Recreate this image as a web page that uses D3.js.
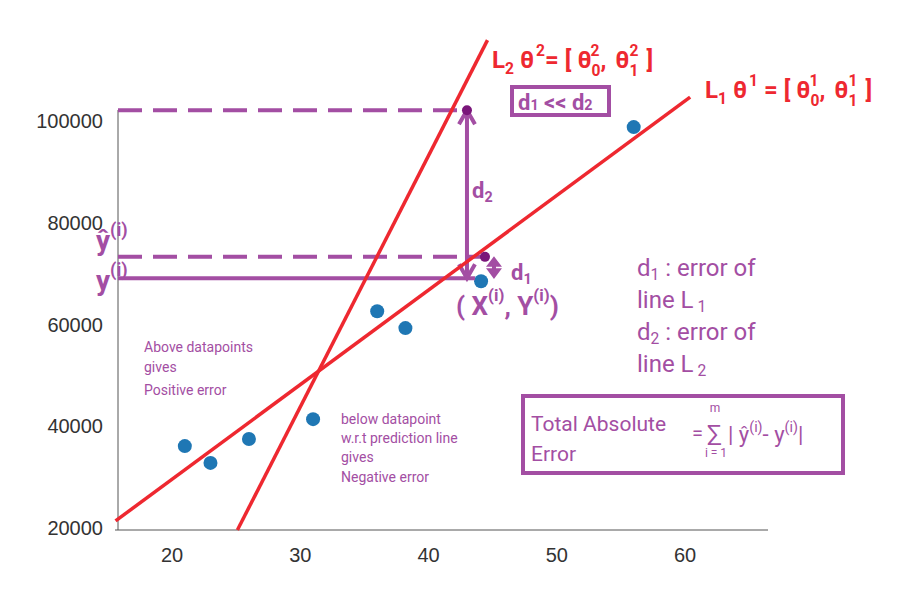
<!DOCTYPE html>
<html><head><meta charset="utf-8">
<script src="https://cdn.jsdelivr.net/npm/d3@7"></script>
<style>body{margin:0;background:#fff}text{font-family:Roboto,"Liberation Sans",sans-serif}</style>
</head><body><svg id="c" width="906" height="607"></svg>
<script>
var xTicks = [20, 30, 40, 50, 60];
var yTicks = [20000, 40000, 60000, 80000, 100000];
var ptX = [21, 23, 26, 31, 36, 38.2, 44.1, 56];
var ptY = [35900, 32600, 37300, 41200, 62400, 59100, 68300, 98600];
var line1 = [[15.6, 21200], [60.4, 104500]];
var line2 = [[25.1, 19400], [44.6, 115700]];
var xi = 43, yHatL2 = 101900, yHatL1 = 73100, yObs = 68900;

var purple = "#a34ea3", red = "#ee2830", blue = "#1f77b4", dark = "#7a167a";
var svg = d3.select("#c");
var x = d3.scaleLinear().domain([20, 60]).range([172, 685]);
var y = d3.scaleLinear().domain([20000, 100000]).range([527, 120]);

svg.append("line").attr("x1", 118).attr("x2", 118).attr("y1", 110).attr("y2", 530).attr("stroke", "#555");
svg.append("line").attr("x1", 115).attr("x2", 768).attr("y1", 530).attr("y2", 530).attr("stroke", "#555");
svg.selectAll(".xt").data(xTicks).join("text").attr("x", d => x(d)).attr("y", 562)
  .attr("text-anchor", "middle").attr("font-size", 20).attr("fill", "#333")
  .style("font-family", "'Liberation Sans',Arial,sans-serif").text(d => d);
svg.selectAll(".yt").data(yTicks).join("text").attr("x", 103).attr("y", d => y(d) + 8)
  .attr("text-anchor", "end").attr("font-size", 20).attr("fill", "#333")
  .style("font-family", "'Liberation Sans',Arial,sans-serif").text(d => d);

svg.selectAll(".pt").data(ptX).join("circle").attr("cx", d => x(d)).attr("cy", (d, i) => y(ptY[i]))
  .attr("r", 7).attr("fill", blue);

// purple guides
svg.append("line").attr("x1", 118).attr("x2", x(xi)).attr("y1", y(yHatL2)).attr("y2", y(yHatL2))
  .attr("stroke", purple).attr("stroke-width", 4).attr("stroke-dasharray", "24,11");
svg.append("line").attr("x1", 118).attr("x2", x(xi) + 14).attr("y1", y(yHatL1)).attr("y2", y(yHatL1))
  .attr("stroke", purple).attr("stroke-width", 4).attr("stroke-dasharray", "24,11");
svg.append("line").attr("x1", 118).attr("x2", x(xi) + 8).attr("y1", y(yObs)).attr("y2", y(yObs))
  .attr("stroke", purple).attr("stroke-width", 4);
svg.append("line").attr("x1", x(xi)).attr("x2", x(xi)).attr("y1", y(yObs)).attr("y2", y(yHatL2))
  .attr("stroke", purple).attr("stroke-width", 4);
function head(px, py, dir, w, h) {
  svg.append("path").attr("d", `M${px - w},${py - dir * h}L${px},${py}L${px + w},${py - dir * h}`)
    .attr("fill", "none").attr("stroke", purple).attr("stroke-width", 4);
}
head(x(xi), y(yHatL2), -1, 8, 14);
head(x(xi), y(yObs), 1, 8, 14);
var dx = x(xi) + 27;
svg.append("line").attr("x1", dx).attr("x2", dx).attr("y1", y(yHatL1) + 3).attr("y2", y(yObs) - 3)
  .attr("stroke", purple).attr("stroke-width", 4);
svg.append("path").attr("d", `M${dx - 6},${y(yHatL1) + 9}L${dx},${y(yHatL1) + 1}L${dx + 6},${y(yHatL1) + 9}Z`).attr("fill", purple).attr("stroke", purple).attr("stroke-width", 2);
svg.append("path").attr("d", `M${dx - 6},${y(yObs) - 9}L${dx},${y(yObs) - 1}L${dx + 6},${y(yObs) - 9}Z`).attr("fill", purple).attr("stroke", purple).attr("stroke-width", 2);

[line1, line2].forEach(l => svg.append("line").attr("x1", x(l[0][0])).attr("y1", y(l[0][1]))
  .attr("x2", x(l[1][0])).attr("y2", y(l[1][1])).attr("stroke", red).attr("stroke-width", 3.5));
svg.append("circle").attr("cx", x(xi)).attr("cy", y(yHatL2)).attr("r", 5).attr("fill", dark);
svg.append("circle").attr("cx", x(xi) + 18).attr("cy", y(yHatL1)).attr("r", 5).attr("fill", dark);

// parts: [text, dy, dx, small]
function rich(px, py, parts, size, color, weight) {
  var t = svg.append("text").attr("x", px).attr("y", py).attr("font-size", size).attr("fill", color)
    .attr("font-weight", weight || "normal");
  parts.forEach(p => {
    var s = t.append("tspan").text(p[0]).attr("font-size", p[3] ? size * 0.65 : size);
    if (p[1]) s.attr("dy", p[1]);
    if (p[2]) s.attr("dx", p[2]);
  });
  return t;
}
// line labels
rich(492, 68, [["L"], ["2", 6, 0, 1], [" θ", -6], ["2", -12, 2, 1], ["= [ θ", 12], ["0", 8, 0, 1], [",", -8], ["2", -12, -16, 1], [" θ", 12, 10], ["1", 8, 0, 1], ["2", -20, -9, 1], [" ]", 12, 2]], 24, red, "bold");
rich(705, 98, [["L"], ["1", 6, 0, 1], [" θ", -6], ["1", -12, 2, 1], [" = [ θ", 12], ["0", 8, 0, 1], [",", -8], ["1", -12, -16, 1], [" θ", 12, 10], ["1", 8, 0, 1], ["1", -20, -9, 1], [" ]", 12, 2]], 24, red, "bold");

svg.append("rect").attr("x", 512).attr("y", 87).attr("width", 97).attr("height", 28)
  .attr("fill", "none").attr("stroke", purple).attr("stroke-width", 4);
rich(518, 110, [["d"], ["1", 0, 0, 1], [" << d"], ["2", 0, 0, 1]], 22, purple, "bold");
rich(472, 198, [["d"], ["2", 4, 0, 1]], 22, purple, "bold");
rich(511, 280, [["d"], ["1", 4, 0, 1]], 22, purple, "bold");
rich(456, 315, [["( X"], ["(i)", -14, 0, 1], [",", 14], [" Y"], ["(i)", -14, 0, 1], [")", 14]], 26, purple, "bold");
rich(96, 250, [["ŷ"], ["(i)", -14, 0, 1]], 28, purple, "bold");
rich(96, 290, [["y"], ["(i)", -14, 0, 1]], 28, purple, "bold");

rich(637, 276, [["d"], ["1", 4, 0, 1], [" : error of", -4]], 24, purple);
rich(637, 308, [["line L"], ["1", 4, 4, 1]], 24, purple);
rich(637, 340, [["d"], ["2", 4, 0, 1], [" : error of", -4]], 24, purple);
rich(637, 372, [["line L"], ["2", 4, 4, 1]], 24, purple);

[["Above datapoints", 144, 352], ["gives", 144, 372], ["Positive error", 144, 395],
 ["below datapoint", 341, 424], ["w.r.t prediction line", 341, 443], ["gives", 341, 462], ["Negative error", 341, 482]]
  .forEach(d => svg.append("text").attr("x", d[1]).attr("y", d[2]).attr("font-size", 14).attr("fill", purple).text(d[0]));

svg.append("rect").attr("x", 523).attr("y", 396).attr("width", 320).attr("height", 77)
  .attr("fill", "none").attr("stroke", purple).attr("stroke-width", 4);
svg.append("text").attr("x", 531).attr("y", 431).attr("font-size", 21).attr("fill", purple).text("Total Absolute");
svg.append("text").attr("x", 531).attr("y", 461).attr("font-size", 21).attr("fill", purple).text("Error");
svg.append("text").attr("x", 692).attr("y", 440).attr("font-size", 20).attr("fill", purple).text("=");
svg.append("text").attr("x", 707).attr("y", 442).attr("font-size", 24).attr("fill", purple).text("∑");
svg.append("text").attr("x", 715).attr("y", 412).attr("font-size", 12).attr("fill", purple).attr("text-anchor", "middle").text("m");
svg.append("text").attr("x", 716).attr("y", 457).attr("font-size", 12).attr("fill", purple).attr("text-anchor", "middle").text("i = 1");
rich(728, 442, [["| ŷ"], ["(i)", -10, 0, 1], ["- y", 10], ["(i)", -10, 0, 1], ["|", 10]], 22, purple);
</script></body></html>
